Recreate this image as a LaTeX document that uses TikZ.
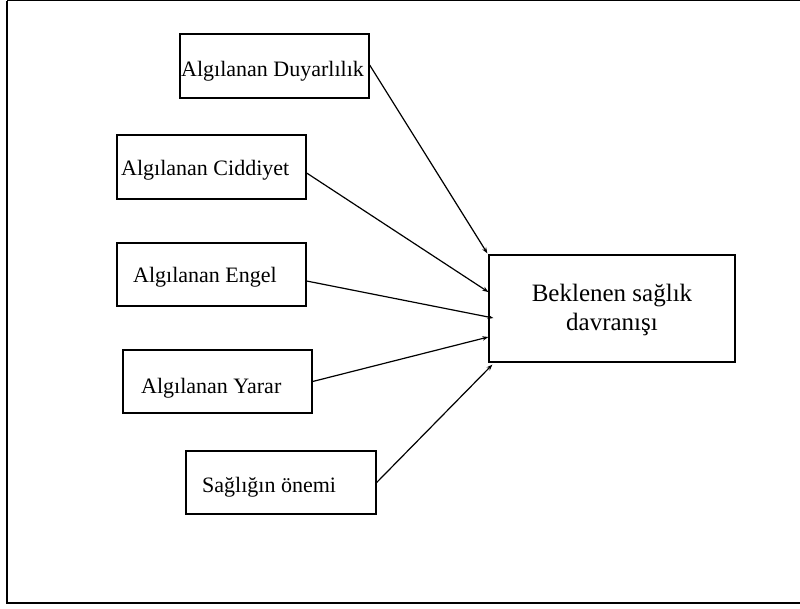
\documentclass[tikz,border=0pt]{standalone}
\usepackage{fontspec}
\setmainfont{Liberation Serif}
\usetikzlibrary{arrows.meta}
\begin{document}
\begin{tikzpicture}[x=1pt,y=-1pt,
  box/.style={draw, line width=1.3pt, inner sep=0pt},
  lbl/.style={inner sep=0pt, anchor=base west, font=\fontsize{22}{26}\selectfont},
  conn/.style={line width=1.2pt, -{Stealth[length=6pt,width=4.5pt]}}]
\useasboundingbox (0,0) rectangle (800,608);
% frame
\coordinate (ftl) at (7,0.6);
\coordinate (ftr) at (800,0.6);
\coordinate (fbl) at (7,603);
\coordinate (fbr) at (800,603);
\draw[line width=1pt] (ftl) -- (ftr);
\draw[line width=2.2pt] (ftl) -- (fbl) -- (fbr);
% boxes
\node[box, minimum width=189pt, minimum height=64pt] (b1) at (274.5,66) {};
\node[box, minimum width=189pt, minimum height=64pt] (b2) at (211.5,167) {};
\node[box, minimum width=189pt, minimum height=63pt] (b3) at (211.5,274.5) {};
\node[box, minimum width=189pt, minimum height=63pt] (b4) at (217.5,381.5) {};
\node[box, minimum width=190pt, minimum height=63pt] (b5) at (281,482.5) {};
\node[box, minimum width=246pt, minimum height=107pt] (big) at (612,308.5) {};
% labels
\node[lbl] (t1) at (181,76) {Algılanan Duyarlılık};
\node[lbl] (t2) at (121,175) {Algılanan Ciddiyet};
\node[lbl] (t3) at (133,282) {Algılanan Engel};
\node[lbl] (t4) at (141,393) {Algılanan Yarar};
\node[lbl] (t5) at (202,492) {Sağlığın önemi};
\node[inner sep=0pt, anchor=base, font=\fontsize{25}{29}\selectfont] (t6a) at (612,301) {Beklenen sağlık};
\node[inner sep=0pt, anchor=base, font=\fontsize{25}{29}\selectfont] (t6b) at (612,330) {davranışı};
% connectors (yshift is in page direction: positive = up)
\draw[conn] ([yshift=1pt]b1.east) -- ([xshift=-1pt,yshift=1pt]big.north west);
\draw[conn] ([yshift=-6pt]b2.east) -- ([yshift=16.5pt]big.west);
\draw[conn] ([yshift=-6.5pt]b3.east) -- ([xshift=5pt,yshift=-9.5pt]big.west);
\draw[conn] (b4.east) -- ([yshift=-28.5pt]big.west);
\draw[conn] (b5.east) -- ([xshift=4pt,yshift=-2pt]big.south west);
\end{tikzpicture}
\end{document}
